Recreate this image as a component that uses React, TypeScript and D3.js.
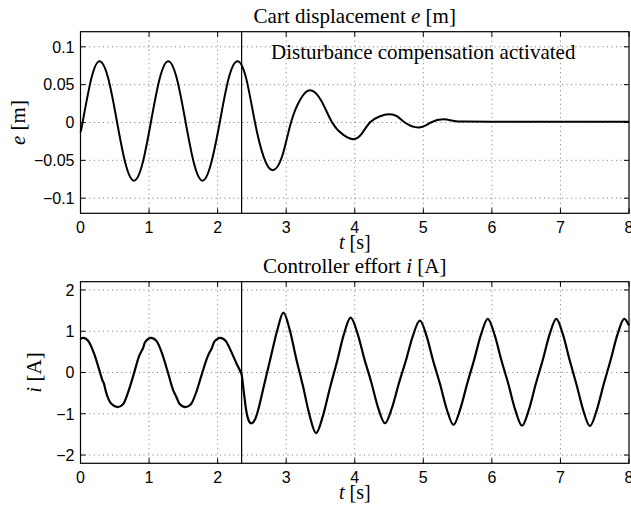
import * as d3 from 'd3';
import React from 'react';

// cart displacement e [m] over time t [s]
const dispT = [0, 0.03, 0.155, 0.28, 0.405, 0.53, 0.655, 0.78, 0.905, 1.03, 1.155, 1.28, 1.405, 1.53, 1.655, 1.78, 1.905, 2.035, 2.16, 2.29, 2.42, 2.545, 2.67, 2.8, 2.94, 3.07, 3.21, 3.35, 3.51, 3.67, 3.83, 3.98, 4.1, 4.22, 4.36, 4.5, 4.62, 4.73, 4.93, 5.11, 5.29, 5.45, 5.6, 6, 7, 8];
const dispE = [-0.012, 0, 0.057, 0.081, 0.058, 0.002, -0.054, -0.077, -0.054, 0.002, 0.058, 0.081, 0.058, 0.002, -0.054, -0.077, -0.054, 0.002, 0.058, 0.081, 0.057, 0, -0.045, -0.063, -0.045, 0, 0.031, 0.0425, 0.029, 0, -0.016, -0.022, -0.015, 0, 0.008, 0.011, 0.008, 0, -0.0066, 0, 0.0043, 0.002, 0.0012, 0.001, 0.001, 0.001];

// controller effort i [A] over time t [s]
const effT = [0, 0.04, 0.12, 0.2, 0.285, 0.32, 0.34, 0.37, 0.45, 0.54, 0.62, 0.7, 0.78, 0.86, 0.89, 0.91, 0.94, 1.03, 1.11, 1.19, 1.27, 1.35, 1.38, 1.4, 1.44, 1.53, 1.61, 1.69, 1.77, 1.86, 1.89, 1.91, 1.95, 2.04, 2.12, 2.2, 2.28, 2.33, 2.35, 2.38, 2.42, 2.45, 2.49,
  2.55, 2.584, 2.678, 2.772, 2.866, 2.96, 3.055, 3.15, 3.245, 3.34, 3.435, 3.536, 3.637, 3.738, 3.839, 3.94,
  4.04, 4.14, 4.24, 4.34, 4.44, 4.542, 4.644, 4.746, 4.848, 4.95, 5.048, 5.146, 5.244, 5.342, 5.44,
  5.54, 5.64, 5.74, 5.84, 5.94, 6.04, 6.14, 6.24, 6.34, 6.44, 6.54, 6.64, 6.74, 6.84, 6.94,
  7.038, 7.136, 7.234, 7.332, 7.43, 7.53, 7.63, 7.73, 7.83, 7.93, 8];
const effI = [0.82, 0.84, 0.75, 0.45, 0, -0.19, -0.26, -0.46, -0.76, -0.84, -0.77, -0.45, -0.02, 0.42, 0.52, 0.58, 0.73, 0.84, 0.76, 0.46, 0.03, -0.42, -0.53, -0.6, -0.75, -0.84, -0.77, -0.47, -0.04, 0.41, 0.51, 0.57, 0.74, 0.84, 0.76, 0.5, 0.2, 0.03, -0.05, -0.45, -0.95, -1.15, -1.23,
  -1.12, -0.95, -0.3, 0.35, 1.0, 1.45, 1.01, 0.31, -0.33, -1.03, -1.47, -1.05, -0.38, 0.24, 0.91, 1.33,
  0.95, 0.33, -0.23, -0.85, -1.23, -0.86, -0.26, 0.29, 0.89, 1.26, 0.88, 0.27, -0.28, -0.89, -1.27,
  -0.88, -0.27, 0.3, 0.91, 1.3, 0.91, 0.29, -0.28, -0.9, -1.29, -0.9, -0.28, 0.29, 0.91, 1.3,
  0.91, 0.29, -0.29, -0.91, -1.3, -0.91, -0.29, 0.29, 0.91, 1.3, 1.14];

const xTicks = [0, 1, 2, 3, 4, 5, 6, 7, 8];
const eTicks = [-0.1, -0.05, 0, 0.05, 0.1];
const eTickLabels = ['\u22120.1', '\u22120.05', '0', '0.05', '0.1'];
const iTicks = [-2, -1, 0, 1, 2];
const iTickLabels = ['\u22122', '\u22121', '0', '1', '2'];
const switchTime = 2.35;

const left = 80.5;
const right = 629;
const serif = 'Liberation Serif, Times New Roman, serif';
const sans = 'Liberation Sans, Arial, sans-serif';

type PanelProps = {
  top: number;
  bottom: number;
  yDomain: [number, number];
  yTicks: number[];
  yTickLabels: string[];
  ts: number[];
  vs: number[];
  title: React.ReactNode;
  ylabel: React.ReactNode;
  ylabelX: number;
  curve: d3.CurveFactory;
  lineWidth: number;
  children?: React.ReactNode;
};

function Panel(p: PanelProps) {
  const x = d3.scaleLinear().domain([0, 8]).range([left, right]);
  const y = d3.scaleLinear().domain(p.yDomain).range([p.bottom, p.top]);
  const pts = p.ts.map((t, k) => [t, p.vs[k]] as [number, number]);
  const line = d3.line<[number, number]>()
    .x(d => x(d[0]))
    .y(d => y(d[1]))
    .curve(p.curve);
  const tl = 5;
  return (
    <g>
      {/* grid */}
      {xTicks.slice(1, -1).map(t => (
        <line key={'gx' + t} x1={x(t)} x2={x(t)} y1={p.top} y2={p.bottom}
          stroke="#777" strokeWidth={1} strokeDasharray="1,3.5" />
      ))}
      {p.yTicks.map(v => (
        <line key={'gy' + v} x1={left} x2={right} y1={y(v)} y2={y(v)}
          stroke="#777" strokeWidth={1} strokeDasharray="1,3.5" />
      ))}
      {/* ticks */}
      {xTicks.map(t => (
        <g key={'tx' + t}>
          <line x1={x(t)} x2={x(t)} y1={p.bottom} y2={p.bottom - tl} stroke="#000" />
          <line x1={x(t)} x2={x(t)} y1={p.top} y2={p.top + tl} stroke="#000" />
          <text x={x(t)} y={p.bottom + 20} textAnchor="middle" fontFamily={sans} fontSize={16}>{t}</text>
        </g>
      ))}
      {p.yTicks.map((v, k) => (
        <g key={'ty' + v}>
          <line x1={left} x2={left + tl} y1={y(v)} y2={y(v)} stroke="#000" />
          <line x1={right} x2={right - tl} y1={y(v)} y2={y(v)} stroke="#000" />
          <text x={left - 6} y={y(v)} dy="0.36em" textAnchor="end" fontFamily={sans} fontSize={16}>{p.yTickLabels[k]}</text>
        </g>
      ))}
      {/* switch line */}
      <line x1={x(switchTime)} x2={x(switchTime)} y1={p.top} y2={p.bottom} stroke="#000" strokeWidth={1.2} />
      <path d={line(pts) || ''} fill="none" stroke="#000" strokeWidth={p.lineWidth} strokeLinejoin="round" />
      <rect x={left} y={p.top} width={right - left} height={p.bottom - p.top} fill="none" stroke="#000" strokeWidth={1.2} />
      <text x={(left + right) / 2} y={p.top - 8.5} textAnchor="middle" fontFamily={serif} fontSize={21}>{p.title}</text>
      <text x={(left + right) / 2} y={p.bottom + 36} textAnchor="middle" fontFamily={serif} fontSize={20}>
        <tspan fontStyle="italic">t</tspan> [s]
      </text>
      <text transform={`translate(${p.ylabelX},${(p.top + p.bottom) / 2}) rotate(-90)`} textAnchor="middle"
        fontFamily={serif} fontSize={21}>{p.ylabel}</text>
      {p.children}
    </g>
  );
}

export default function App() {
  return (
    <svg width={631} height={506} style={{ position: 'absolute', left: 0, top: 0, background: '#fff' }}>
      <Panel top={31.7} bottom={213.3} yDomain={[-0.12, 0.12]} yTicks={eTicks} yTickLabels={eTickLabels}
        ts={dispT} vs={dispE} curve={d3.curveNatural} lineWidth={2}
        title={<>Cart displacement <tspan fontStyle="italic">e</tspan> [m]</>}
        ylabel={<><tspan fontStyle="italic">e</tspan> [m]</>} ylabelX={25}>
        <text x={271} y={59} fontFamily={serif} fontSize={21}>Disturbance compensation activated</text>
      </Panel>
      <Panel top={281.7} bottom={463.3} yDomain={[-2.2, 2.2]} yTicks={iTicks} yTickLabels={iTickLabels}
        ts={effT} vs={effI} curve={d3.curveMonotoneX} lineWidth={2.2}
        title={<>Controller effort <tspan fontStyle="italic">i</tspan> [A]</>}
        ylabel={<><tspan fontStyle="italic">i</tspan> [A]</>} ylabelX={41} />
    </svg>
  );
}
